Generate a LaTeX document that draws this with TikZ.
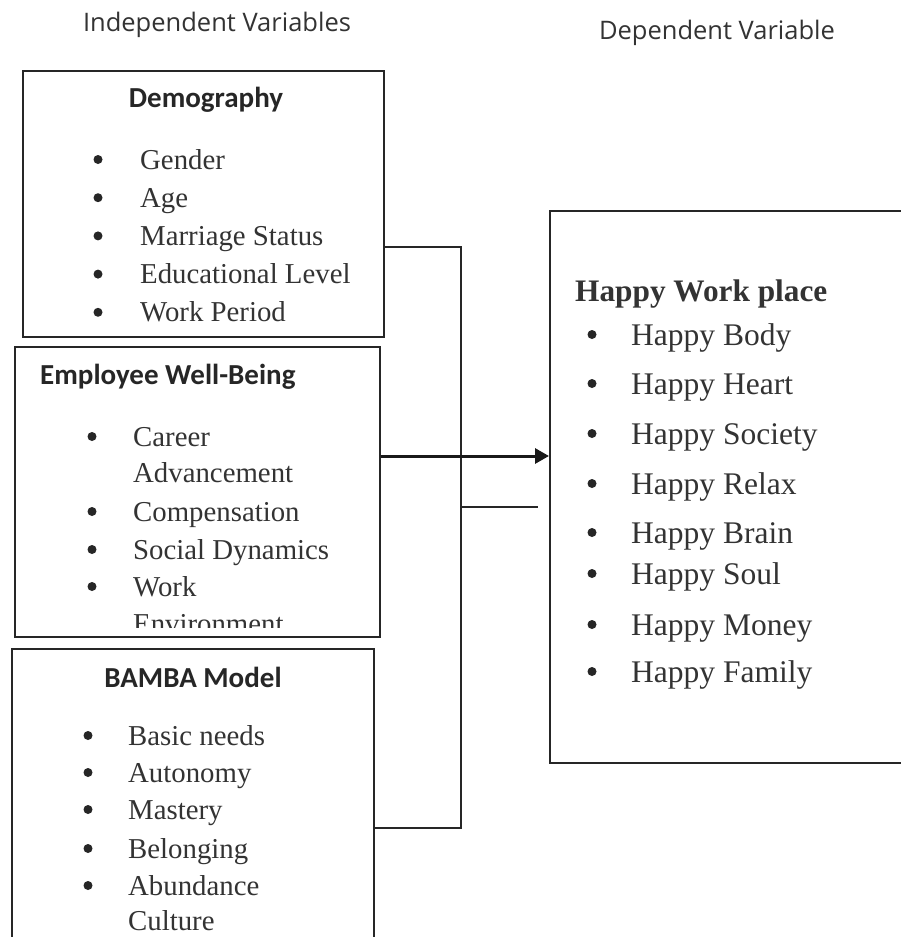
\documentclass[tikz,border=0pt]{standalone}
\usepackage{fontspec}
\setmainfont{Liberation Serif}
\newfontfamily\calibfont{Carlito}
\newfontfamily\hdrfont{Open Sans}
\usetikzlibrary{arrows.meta}
\begin{document}
\begin{tikzpicture}[x=1pt,y=-1pt,
  box/.style={draw=black!85, line width=1.8pt, rectangle, inner sep=0pt, anchor=north west},
  item/.style={anchor=base west, inner sep=0pt, text=black!80, font=\fontsize{28.8}{30}\selectfont},
  ritem/.style={anchor=base west, inner sep=0pt, text=black!80, font=\fontsize{31.5}{33}\selectfont},
  bul/.style={circle, fill=black!85, inner sep=0pt, minimum size=9pt},
  ttl/.style={inner sep=0pt, text=black!85, font=\calibfont\bfseries\fontsize{29}{31}\selectfont},
  hdr/.style={inner sep=0pt, text=black!80, font=\hdrfont\fontsize{25.5}{28}\selectfont},
  conn/.style={draw=black!85, line width=1.5pt},
  arr/.style={draw=black!90, line width=3pt, -{Triangle[length=14pt,width=15pt]}}]
\useasboundingbox[fill=white] (0,0) rectangle (901,937);

% headers
\node[hdr] (hind) at (217,25) {Independent Variables};
\node[hdr] (hdep) at (717,33) {Dependent Variable};

% boxes
\node[box, minimum width=361pt, minimum height=266pt] (demo) at (22,70) {};
\node[box, minimum width=365pt, minimum height=290pt] (emp) at (14,346) {};
\node[box, minimum width=362pt, minimum height=310pt] (bamba) at (11,648) {};
\node[box, minimum width=370pt, minimum height=552pt] (hwp) at (549,210) {};

% Demography
\node[ttl] (tdemo) at (206,100) {Demography};
\foreach \t [count=\i] in {Gender,Age,Marriage Status,Educational Level,Work Period}{
  \pgfmathsetmacro{\yy}{169+(\i-1)*38.2}
  \node[bul] (db\i) at (98,\yy-9.5) {};
  \node[item] (di\i) at (140,\yy) {\t};
}

% Employee Well-Being
\node[ttl, anchor=west] (temp) at (40,377) {Employee Well-Being};
\begin{scope}
\clip (14,346) rectangle (379,627);
\foreach \t/\yy/\b [count=\i] in {Career/446/1,Advancement/482/0,Compensation/521/1,Social Dynamics/559/1,Work/596/1,Environment/633/0}{
  \ifnum\b=1 \node[bul] (eb\i) at (92,\yy-9.5) {};\fi
  \node[item] (ei\i) at (133,\yy) {\t};
}
\end{scope}

% BAMBA
\node[ttl] (tbam) at (193,677) {BAMBA Model};
\foreach \t/\yy/\b [count=\i] in {Basic needs/745/1,Autonomy/782/1,Mastery/819/1,Belonging/858/1,Abundance/895/1,Culture/930/0}{
  \ifnum\b=1 \node[bul] (bb\i) at (88,\yy-9.5) {};\fi
  \node[item] (bi\i) at (128,\yy) {\t};
}

% Happy Work place
\node[ritem, font=\bfseries\fontsize{31.3}{33}\selectfont] (thwp) at (575,301) {Happy Work place};
\foreach \t/\yy [count=\i] in {Happy Body/345,Happy Heart/394,Happy Society/444,Happy Relax/494,Happy Brain/543,Happy Soul/584,Happy Money/635,Happy Family/682}{
  \node[bul] (hb\i) at (592,\yy-10.5) {};
  \node[ritem] (hi\i) at (631,\yy) {\t};
}

% connectors
\coordinate (bt) at (461,247);
\coordinate (bb) at (461,828);
\coordinate (stub) at (538,507);
\draw[conn] (demo.east |- bt) -- (bt) -- (bb) -- (bamba.east |- bb);
\draw[conn] (bt |- stub) -- (stub);
\coordinate (ay) at (0,456);
\draw[arr] (emp.east |- ay) -- (hwp.west |- ay);
\end{tikzpicture}
\end{document}
